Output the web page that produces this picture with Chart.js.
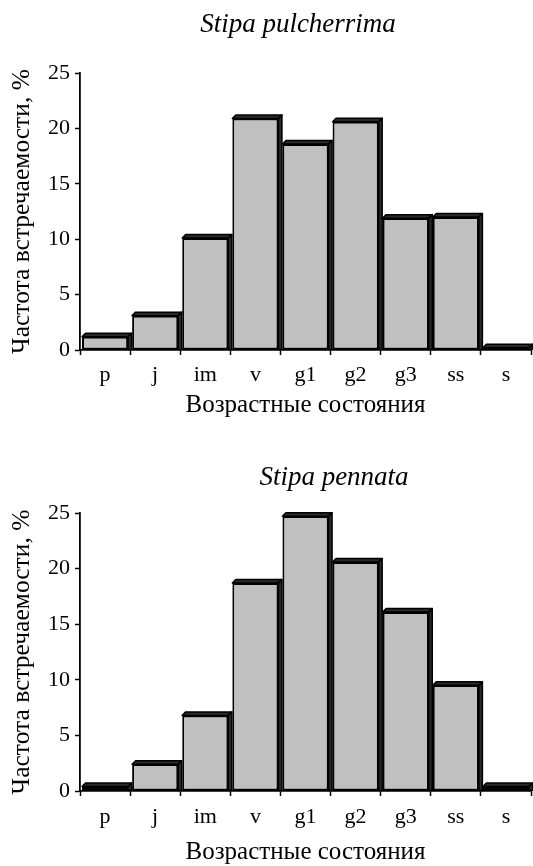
<!DOCTYPE html>
<html>
<head>
<meta charset="utf-8">
<script src="https://cdn.jsdelivr.net/npm/chart.js@4.4.1/dist/chart.umd.min.js"></script>
<style>
  html, body { margin: 0; padding: 0; background: #fff; }
  .wrap { position: absolute; left: 0; width: 533px; height: 433px; }
  #w1 { top: 0; }
  #w2 { top: 433px; }
</style>
</head>
<body>
<div class="wrap" id="w1"><canvas id="c1" width="533" height="433"></canvas></div>
<div class="wrap" id="w2"><canvas id="c2" width="533" height="433"></canvas></div>
<script>
// ---- data ----
const categories = ['p', 'j', 'im', 'v', 'g1', 'g2', 'g3', 'ss', 's'];
const pulcherrimaValues = [1.2, 3.1, 10.1, 20.9, 18.6, 20.6, 11.9, 12.0, 0.2];
const pennataValues = [0.4, 2.4, 6.8, 18.7, 24.7, 20.6, 16.1, 9.5, 0.4];
const yMin = 0;
const yMax = 25;
const yStep = 5;
const titleTop = 'Stipa pulcherrima';
const titleBottom = 'Stipa pennata';
const xAxisTitle = 'Возрастные состояния';
const yAxisTitle = 'Частота встречаемости, %';

const FONT = '"Liberation Serif", "Times New Roman", "DejaVu Serif", serif';
Chart.defaults.font.family = FONT;
Chart.defaults.color = '#000';

const speciesTitle = {
  id: 'speciesTitle',
  afterDraw(chart, args, opts) {
    const ctx = chart.ctx;
    ctx.save();
    ctx.font = 'italic ' + opts.size + 'px ' + FONT;
    ctx.fillStyle = '#000';
    ctx.textAlign = 'center';
    ctx.textBaseline = 'middle';
    ctx.fillText(opts.text, opts.x, opts.y);
    ctx.restore();
  }
};

const barDepth = {
  id: 'barDepth',
  afterDatasetsDraw(chart, args, opts) {
    const d = opts.depth;
    const ctx = chart.ctx;
    chart.getDatasetMeta(0).data.forEach(bar => {
      const p = bar.getProps(['x', 'y', 'base', 'width'], true);
      const l = p.x - p.width / 2, r = p.x + p.width / 2, t = p.y, b = p.base;
      ctx.save();
      ctx.fillStyle = opts.faceColor;
      ctx.strokeStyle = '#000';
      ctx.lineWidth = 1.5;
      ctx.lineJoin = 'round';
      ctx.beginPath();
      ctx.moveTo(l, t); ctx.lineTo(l + d, t - d); ctx.lineTo(r + d, t - d); ctx.lineTo(r, t);
      ctx.closePath(); ctx.fill(); ctx.stroke();
      ctx.beginPath();
      ctx.moveTo(r, t); ctx.lineTo(r + d, t - d); ctx.lineTo(r + d, b); ctx.lineTo(r, b);
      ctx.closePath(); ctx.fill(); ctx.stroke();
      ctx.restore();
    });
  }
};

function makeChart(canvasId, values, title, lay) {
  return new Chart(document.getElementById(canvasId), {
    type: 'bar',
    data: {
      labels: categories,
      datasets: [{
        data: values,
        backgroundColor: '#c0c0c0',
        borderColor: '#000',
        borderWidth: 2,
        borderSkipped: false,
        barPercentage: 0.92,
        categoryPercentage: 1.0
      }]
    },
    plugins: [barDepth, speciesTitle],
    options: {
      responsive: false,
      animation: false,
      layout: { padding: { top: lay.top, right: 2, left: 0, bottom: 0 } },
      plugins: {
        legend: { display: false },
        tooltip: { enabled: false },
        title: { display: false },
        barDepth: { depth: 3.5, faceColor: '#2a2a2a' },
        speciesTitle: { text: title, x: lay.titleX, y: lay.titleY, size: 27 }
      },
      scales: {
        x: {
          grid: { offset: true, drawOnChartArea: false, drawTicks: true, tickLength: 5, tickColor: '#000', tickWidth: 1.5 },
          border: { display: true, color: '#000', width: 1.8 },
          ticks: { color: '#000', font: { size: 22, lineHeight: 1.2 }, padding: lay.tickPad, maxRotation: 0, autoSkip: false },
          title: { display: true, text: xAxisTitle, color: '#000', font: { size: 25, lineHeight: 1 }, padding: { top: 0, bottom: lay.xTitlePad } },
          afterFit(scale) { scale.height = lay.xHeight; }
        },
        y: {
          min: yMin,
          max: yMax,
          grid: { drawOnChartArea: false, drawTicks: true, tickLength: 5, tickColor: '#000', tickWidth: 1.5 },
          border: { display: true, color: '#000', width: 1.8 },
          ticks: { stepSize: yStep, color: '#000', font: { size: 22 }, padding: 5 },
          title: { display: true, text: yAxisTitle, color: '#000', font: { size: 25.5, lineHeight: 1 }, padding: { top: 10, bottom: 0 } },
          afterFit(scale) { scale.width = 80; }
        }
      }
    }
  });
}

makeChart('c1', pulcherrimaValues, titleTop,
  { top: 73, xHeight: 83, tickPad: 6.8, xTitlePad: 15, titleX: 298, titleY: 25 });
makeChart('c2', pennataValues, titleBottom,
  { top: 80, xHeight: 75, tickPad: 7.8, xTitlePad: 1, titleX: 334, titleY: 45 });
</script>
</body>
</html>
